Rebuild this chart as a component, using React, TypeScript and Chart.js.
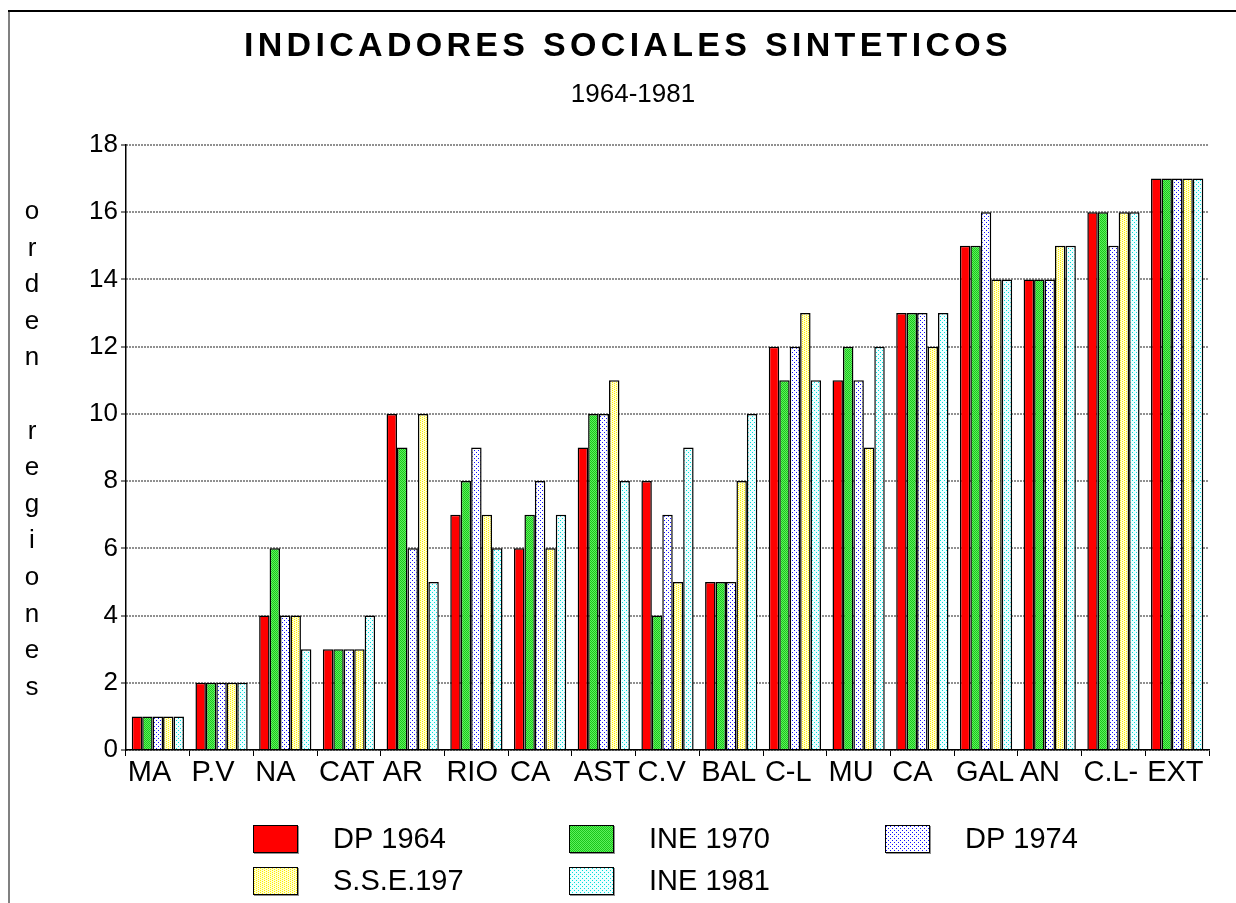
import { useEffect, useRef } from "react";
import { Chart, registerables } from "chart.js";

Chart.register(...registerables);

const FONT = '"Liberation Sans", Arial, Helvetica, sans-serif';

const chartTitle = "INDICADORES SOCIALES SINTETICOS";
const chartSubtitle = "1964-1981";
const yAxisTitle = ["o", "r", "d", "e", "n", "", "r", "e", "g", "i", "o", "n", "e", "s"];

const categories = ["MA", "P.V", "NA", "CAT", "AR", "RIO", "CA", "AST", "C.V", "BAL", "C-L", "MU", "CA", "GAL", "AN", "C.L-", "EXT"];
const seriesNames = ["DP 1964", "INE 1970", "DP 1974", "S.S.E.197", "INE 1981"];

const dp1964 = [1, 2, 4, 3, 10, 7, 6, 9, 8, 5, 12, 11, 13, 15, 14, 16, 17];
const ine1970 = [1, 2, 6, 3, 9, 8, 7, 10, 4, 5, 11, 12, 13, 15, 14, 16, 17];
const dp1974 = [1, 2, 4, 3, 6, 9, 8, 10, 7, 5, 12, 11, 13, 16, 14, 15, 17];
const sse197 = [1, 2, 4, 3, 10, 7, 6, 11, 5, 8, 13, 9, 12, 14, 15, 16, 17];
const ine1981 = [1, 2, 3, 4, 5, 6, 7, 8, 9, 10, 11, 12, 13, 14, 15, 16, 17];

const yMin = 0;
const yMax = 18;
const yStep = 2;

function makePattern(size: number, bg: string, fg: string, pts: number[][]): CanvasPattern | string {
  const c = document.createElement("canvas");
  c.width = size;
  c.height = size;
  const g = c.getContext("2d");
  if (!g) return bg;
  g.fillStyle = bg;
  g.fillRect(0, 0, size, size);
  g.fillStyle = fg;
  for (const [x, y] of pts) g.fillRect(x, y, 1, 1);
  const p = g.createPattern(c, "repeat");
  return p || bg;
}

export default function App() {
  const ref = useRef<HTMLCanvasElement | null>(null);

  useEffect(() => {
    if (!ref.current) return;
    const fills: (CanvasPattern | string)[] = [
      "#ff0000",
      makePattern(4, "#5cf25c", "#1cc41c", [[0, 0], [2, 0], [1, 1], [3, 1], [0, 2], [2, 2], [1, 3], [3, 3]]),
      makePattern(4, "#ffffff", "#1010ff", [[0, 0], [2, 2]]),
      makePattern(4, "#ffffd0", "#ffee00", [[0, 0], [0, 2], [2, 1], [2, 3]]),
      makePattern(4, "#eeffff", "#00dcdc", [[0, 0], [2, 2]]),
    ];
    const values = [dp1964, ine1970, dp1974, sse197, ine1981];

    const decor = {
      id: "decor",
      beforeDraw(chart: any) {
        const ctx = chart.ctx as CanvasRenderingContext2D;
        ctx.save();
        ctx.fillStyle = "#ffffff";
        ctx.fillRect(0, 0, chart.width, chart.height);
        ctx.strokeStyle = "#808080";
        ctx.lineWidth = 2;
        ctx.beginPath();
        ctx.moveTo(9, chart.height);
        ctx.lineTo(9, 11);
        ctx.stroke();
        ctx.strokeStyle = "#000000";
        ctx.lineWidth = 2;
        ctx.beginPath();
        ctx.moveTo(8, 11);
        ctx.lineTo(chart.width, 11);
        ctx.stroke();
        ctx.restore();
      },
      afterDraw(chart: any) {
        const ctx = chart.ctx as CanvasRenderingContext2D;
        ctx.save();
        ctx.fillStyle = "#000000";
        // title
        ctx.font = `bold 34px ${FONT}`;
        (ctx as any).letterSpacing = "4.3px";
        ctx.textAlign = "center";
        ctx.textBaseline = "alphabetic";
        ctx.fillText(chartTitle, 628, 56);
        (ctx as any).letterSpacing = "0px";
        ctx.font = `26px ${FONT}`;
        ctx.fillText(chartSubtitle, 633, 102);
        // y axis title (stacked letters)
        ctx.font = `26px ${FONT}`;
        yAxisTitle.forEach((ch, i) => {
          if (ch) ctx.fillText(ch, 32, 219 + i * 36.6);
        });
        // legend
        const colX = [253, 569, 885];
        const rowY = [825, 867];
        ctx.textAlign = "left";
        ctx.textBaseline = "middle";
        ctx.font = `29px ${FONT}`;
        seriesNames.forEach((name, i) => {
          const x = colX[i % 3];
          const y = rowY[Math.floor(i / 3)];
          ctx.fillStyle = "#909090";
          ctx.fillRect(x + 1, y + 1, 45, 28);
          ctx.fillStyle = fills[i] as any;
          ctx.fillRect(x, y, 45, 28);
          ctx.strokeStyle = "#000000";
          ctx.lineWidth = 1;
          ctx.strokeRect(x + 0.5, y + 0.5, 44, 27);
          ctx.fillStyle = "#000000";
          ctx.fillText(name, x + 80, y + 15);
        });
        ctx.restore();
      },
    };

    const chart = new Chart(ref.current, {
      type: "bar",
      data: {
        labels: categories,
        datasets: seriesNames.map((name, i) => ({
          label: name,
          data: values[i],
          backgroundColor: fills[i] as any,
          borderColor: "#000000",
          borderWidth: 1.5,
          borderSkipped: "start" as const,
          categoryPercentage: 0.82,
          barPercentage: 1.0,
        })),
      },
      options: {
        responsive: false,
        animation: false,
        layout: { padding: { top: 145, right: 27, left: 0, bottom: 0 } },
        plugins: {
          legend: { display: false },
          title: { display: false },
          tooltip: { enabled: false },
        },
        scales: {
          x: {
            type: "category",
            offset: true,
            afterFit: (s: any) => {
              s.height = 153;
            },
            grid: {
              offset: true,
              drawOnChartArea: false,
              drawTicks: true,
              tickLength: 6,
              tickColor: "#000000",
              tickWidth: 1,
            },
            border: { display: true, color: "#000000", width: 1.5 },
            ticks: {
              autoSkip: false,
              maxRotation: 0,
              minRotation: 0,
              align: "start",
              labelOffset: -30,
              padding: 0,
              color: "#000000",
              font: { family: FONT, size: 29 },
            },
          },
          y: {
            min: yMin,
            max: yMax,
            afterFit: (s: any) => {
              s.width = 126;
            },
            grid: {
              color: "#222222",
              lineWidth: 2,
              drawTicks: true,
              tickLength: 5,
              tickColor: "#000000",
              tickWidth: 1,
              tickBorderDash: [],
            },
            border: { display: true, color: "#000000", width: 1.5, dash: [1, 2] },
            ticks: {
              stepSize: yStep,
              padding: 3,
              color: "#000000",
              font: { family: FONT, size: 26 },
            },
          },
        },
      },
      plugins: [decor],
    });

    return () => chart.destroy();
  }, []);

  return (
    <div style={{ position: "absolute", left: 0, top: 0, width: 1236, height: 903 }}>
      <canvas ref={ref} width={1236} height={903} style={{ display: "block", width: 1236, height: 903 }} />
    </div>
  );
}
